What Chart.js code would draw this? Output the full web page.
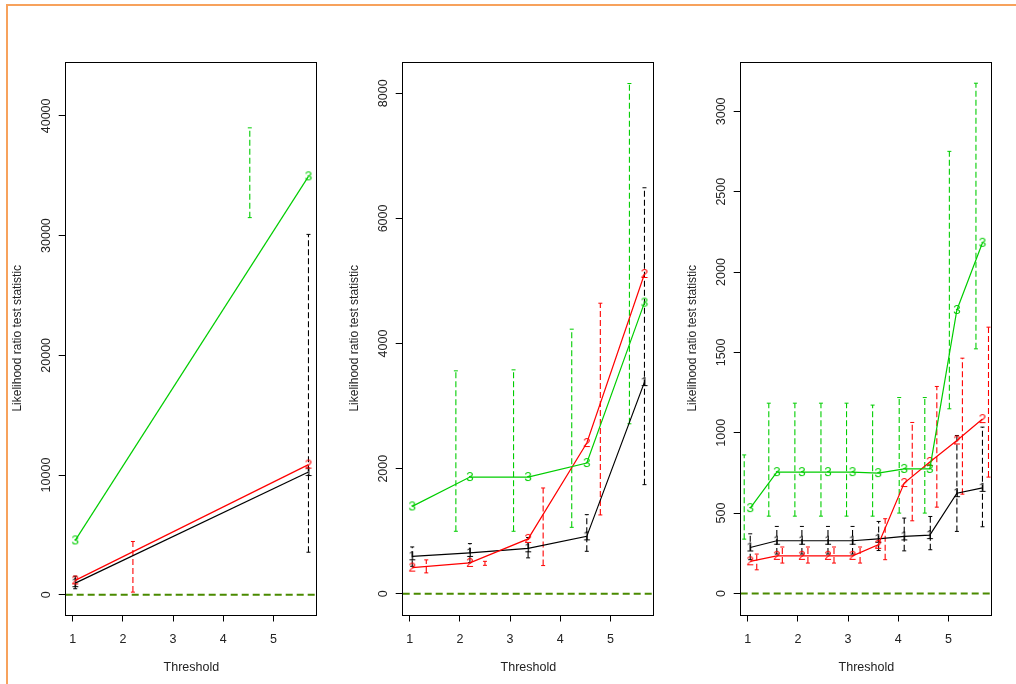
<!DOCTYPE html>
<html>
<head>
<meta charset="utf-8">
<script src="https://cdn.jsdelivr.net/npm/chart.js@4/dist/chart.umd.min.js"></script>
<style>
  body { margin: 0; background: #ffffff; }
  #page { position: relative; width: 1016px; height: 684px; overflow: hidden; }
  #frame { position: absolute; left: 6px; top: 4px; right: -10px; bottom: -10px;
           border-top: 2px solid #f7a25c; border-left: 2px solid #f7a25c; }
  canvas { position: absolute; top: 0; }
</style>
</head>
<body>
<div id="page">
  <div id="frame"></div>
  <canvas id="panel1" width="337" height="684" style="left:0px"></canvas>
  <canvas id="panel2" width="337" height="684" style="left:337px"></canvas>
  <canvas id="panel3" width="337" height="684" style="left:675px"></canvas>
</div>
<script>
var xTicks = [1, 2, 3, 4, 5];
var xMin = 0.86;
var xMax = 5.87;
var refLevel = 0;

// Panel 1
var p1X = [1.05, 5.70];
var p1Black = [970, 10250];
var p1Red = [1200, 10870];
var p1Green = [4540, 34950];
var p1BlackBarX = [1.05, 5.70];
var p1BlackLo = [500, 3550];
var p1BlackHi = [1550, 30100];
var p1RedBarX = [2.20];
var p1RedLo = [220];
var p1RedHi = [4450];
var p1GreenBarX = [4.53];
var p1GreenLo = [31500];
var p1GreenHi = [39000];
var p1YTicks = [0, 10000, 20000, 30000, 40000];

// Panel 2
var p2X = [1.05, 2.20, 3.36, 4.53, 5.68];
var p2Black = [600, 654, 728, 919, 3384];
var p2Red = [420, 495, 878, 2410, 5112];
var p2Green = [1398, 1867, 1867, 2091, 4655];
var p2BlackBarX = [1.05, 2.20, 3.36, 4.53, 5.68];
var p2BlackLo = [440, 500, 575, 680, 1745];
var p2BlackHi = [750, 803, 900, 1266, 6490];
var p2RedBarX = [1.33, 2.50, 3.66, 4.80];
var p2RedLo = [335, 456, 452, 1261];
var p2RedHi = [543, 520, 1692, 4645];
var p2GreenBarX = [1.92, 3.07, 4.23, 5.38];
var p2GreenLo = [1000, 1000, 1063, 2718];
var p2GreenHi = [3564, 3580, 4230, 8156];
var p2YTicks = [0, 2000, 4000, 6000, 8000];

// Panel 3
var p3X = [1.05, 1.58, 2.08, 2.60, 3.09, 3.60, 4.12, 4.63, 5.17, 5.68];
var p3Black = [286, 328, 328, 328, 328, 340, 355, 363, 624, 657];
var p3Red = [200, 234, 234, 234, 234, 303, 687, 818, 952, 1085];
var p3Green = [531, 755, 755, 755, 755, 749, 775, 775, 1764, 2182];
var p3BlackBarX = [1.05, 1.58, 2.08, 2.60, 3.09, 3.61, 4.12, 4.64, 5.17, 5.68];
var p3BlackLo = [210, 245, 245, 245, 245, 267, 265, 272, 386, 415];
var p3BlackHi = [371, 417, 417, 417, 417, 448, 469, 479, 983, 1035];
var p3RedBarX = [1.18, 1.69, 2.20, 2.72, 3.24, 3.74, 4.28, 4.77, 5.28, 5.80];
var p3RedLo = [147, 189, 189, 189, 189, 210, 452, 537, 618, 724];
var p3RedHi = [245, 289, 289, 289, 289, 465, 1064, 1288, 1464, 1657];
var p3GreenBarX = [0.93, 1.42, 1.94, 2.46, 2.97, 3.49, 4.02, 4.53, 5.02, 5.55];
var p3GreenLo = [338, 481, 481, 481, 481, 481, 500, 500, 1149, 1522];
var p3GreenHi = [862, 1184, 1184, 1184, 1184, 1172, 1219, 1219, 2751, 3175];
var p3YTicks = [0, 500, 1000, 1500, 2000, 2500, 3000];

var black = '#000000';
var red = '#ff0000';
var green = '#00cd00';
var font = '"Liberation Sans", Arial, sans-serif';

Chart.defaults.font.family = font;


/**
 *  Turns x and y arrays into chart points.
 */
function linePoints(xs, ys) {
    return xs.map(function(x, i) { return {x: x, y: ys[i]}; });
}

/**
 *  Each error bar is a lo/hi pair, with a null point to break the line.
 */
function barPoints(xs, lo, hi) {
    var pts = [];
    for (var i = 0; i < xs.length; i++) {
        pts.push({x: xs[i], y: lo[i]}, {x: xs[i], y: hi[i]}, {x: xs[i], y: null});
    }
    return pts;
}

/**
 *  Small canvas with a digit on it, used as point style (like pch = "1").
 */
function digitGlyph(ch, color) {
    var c = document.createElement('canvas');
    c.width = 14;
    c.height = 16;
    var g = c.getContext('2d');
    g.font = '13.5px ' + font;
    g.fillStyle = color;
    g.textAlign = 'center';
    g.textBaseline = 'middle';
    g.fillText(ch, 7, 8.5);
    return c;
}

function seriesSet(xs, ys, color, ch) {
    return {
        data: linePoints(xs, ys),
        borderColor: color,
        borderWidth: 1.2,
        pointStyle: digitGlyph(ch, color),
        pointRadius: 5
    };
}

function barSet(xs, lo, hi, color) {
    return {
        data: barPoints(xs, lo, hi),
        borderColor: color,
        borderWidth: 1.1,
        borderDash: [6, 3],
        pointStyle: 'line',
        pointRadius: 2,
        pointBorderColor: color,
        pointBorderWidth: 1,
        spanGaps: false
    };
}

/**
 *  Box round the plot and the R style rotated y tick labels.
 */
var rStyle = {
    id: 'rStyle',
    afterDraw: function(chart) {
        var ctx = chart.ctx;
        var area = chart.chartArea;
        var yScale = chart.scales.y;
        ctx.save();
        ctx.strokeStyle = '#000';
        ctx.lineWidth = 1;
        ctx.strokeRect(Math.floor(area.left) + 0.5, Math.floor(area.top) + 0.5,
            Math.round(area.right - area.left), Math.round(area.bottom - area.top));
        ctx.fillStyle = '#222';
        ctx.font = '12.5px ' + font;
        ctx.textAlign = 'center';
        ctx.textBaseline = 'middle';
        yScale.ticks.forEach(function(t) {
            ctx.save();
            ctx.translate(area.left - 19.5, yScale.getPixelForValue(t.value));
            ctx.rotate(-Math.PI / 2);
            ctx.fillText(String(t.value), 0, 0);
            ctx.restore();
        });
        ctx.restore();
    }
};

function makePanel(id, yMin, yMax, yTicks, datasets) {
    return new Chart(document.getElementById(id).getContext('2d'), {
        type: 'line',
        data: { datasets: datasets },
        plugins: [rStyle],
        options: {
            responsive: false,
            animation: false,
            events: [],
            layout: { padding: { top: 62, right: 20, left: 0, bottom: 0 } },
            plugins: { legend: { display: false }, tooltip: { enabled: false } },
            scales: {
                x: {
                    type: 'linear',
                    min: xMin,
                    max: xMax,
                    afterBuildTicks: function(scale) {
                        scale.ticks = xTicks.map(function(v) { return {value: v}; });
                    },
                    afterFit: function(scale) { scale.height = 69.5; },
                    grid: { drawOnChartArea: false, color: '#000', tickLength: 7 },
                    border: { display: false },
                    ticks: { color: '#222', font: { size: 12.5 }, padding: 11, maxRotation: 0 },
                    title: { display: true, text: 'Threshold', color: '#222',
                             font: { size: 12.5 }, padding: { top: 0, bottom: 8.8 } }
                },
                y: {
                    type: 'linear',
                    min: yMin,
                    max: yMax,
                    afterBuildTicks: function(scale) {
                        scale.ticks = yTicks.map(function(v) { return {value: v}; });
                    },
                    afterFit: function(scale) { scale.width = 65.7; },
                    grid: { drawOnChartArea: false, color: '#000', tickLength: 7 },
                    border: { display: false },
                    ticks: { display: false },
                    title: { display: true, text: 'Likelihood ratio test statistic', color: '#222',
                             font: { size: 12 }, padding: { top: 10.8, bottom: 0 } }
                }
            }
        }
    });
}

function refSet() {
    return {
        data: [{x: xMin, y: refLevel}, {x: xMax, y: refLevel}],
        borderColor: '#4a8a00',
        borderWidth: 2,
        borderDash: [7, 4],
        pointRadius: 0
    };
}

makePanel('panel1', -1650, 44500, p1YTicks, [
    seriesSet(p1X, p1Green, green, '3'),
    seriesSet(p1X, p1Red, red, '2'),
    seriesSet(p1X, p1Black, black, '1'),
    barSet(p1GreenBarX, p1GreenLo, p1GreenHi, green),
    barSet(p1RedBarX, p1RedLo, p1RedHi, red),
    barSet(p1BlackBarX, p1BlackLo, p1BlackHi, black),
    refSet()
]);

makePanel('panel2', -330, 8500, p2YTicks, [
    seriesSet(p2X, p2Green, green, '3'),
    seriesSet(p2X, p2Red, red, '2'),
    seriesSet(p2X, p2Black, black, '1'),
    barSet(p2GreenBarX, p2GreenLo, p2GreenHi, green),
    barSet(p2RedBarX, p2RedLo, p2RedHi, red),
    barSet(p2BlackBarX, p2BlackLo, p2BlackHi, black),
    refSet()
]);

makePanel('panel3', -131, 3307, p3YTicks, [
    seriesSet(p3X, p3Green, green, '3'),
    seriesSet(p3X, p3Red, red, '2'),
    seriesSet(p3X, p3Black, black, '1'),
    barSet(p3GreenBarX, p3GreenLo, p3GreenHi, green),
    barSet(p3RedBarX, p3RedLo, p3RedHi, red),
    barSet(p3BlackBarX, p3BlackLo, p3BlackHi, black),
    refSet()
]);
</script>
</body>
</html>
